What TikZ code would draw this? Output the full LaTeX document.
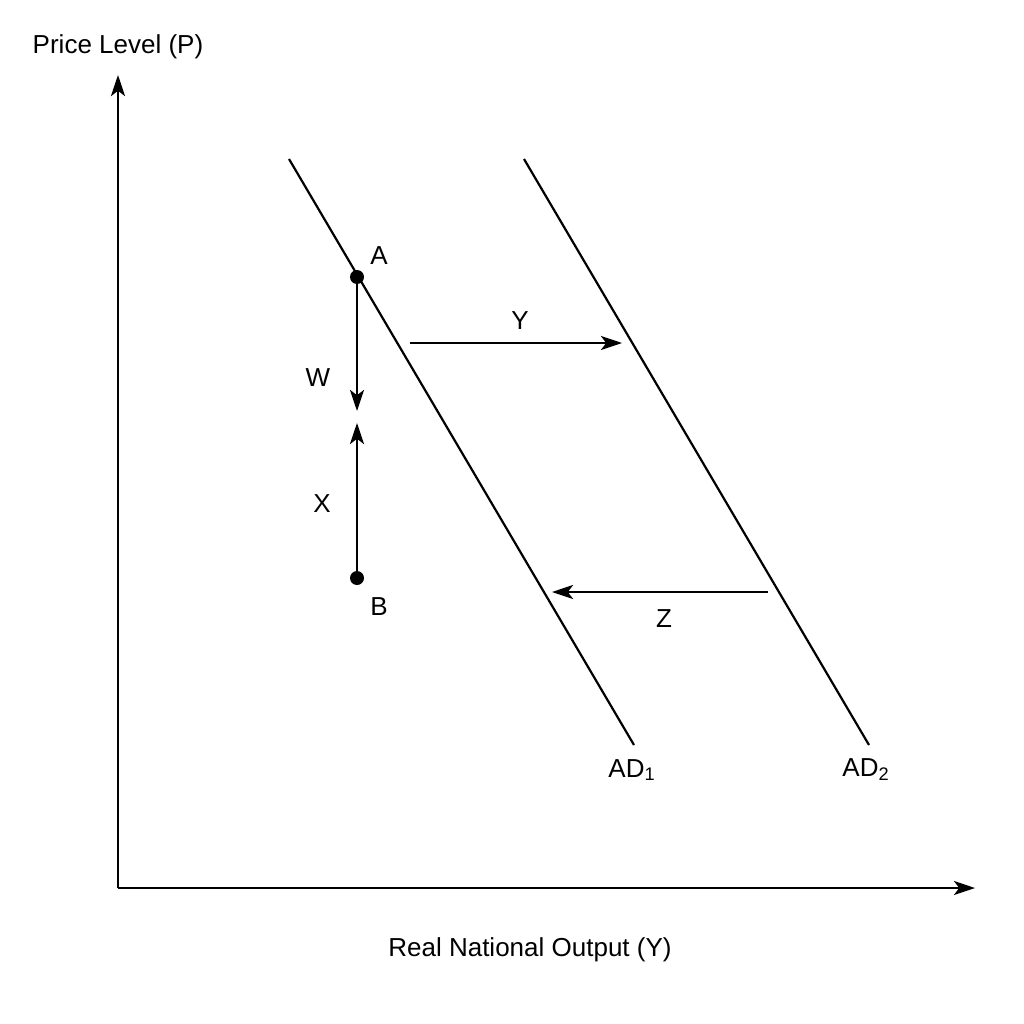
\documentclass[tikz,border=0pt]{standalone}
\usepackage{fontspec}
\setmainfont{Liberation Sans}
\usetikzlibrary{arrows.meta}
\begin{document}
\begin{tikzpicture}[
   x=0.02cm, y=-0.02cm,
   line width=1.25pt,
   every node/.style={font=\fontsize{14.8}{18}\selectfont, inner sep=0pt},
   arr/.style={-{Stealth[length=12pt,width=8pt,inset=3pt]}},
   dot/.style={circle, fill=black, minimum size=0.28cm}]

\useasboundingbox (0,0) rectangle (1024,1024);

% axes
\coordinate (O) at (118,888);
\coordinate (ytop) at (118,75);
\coordinate (xend) at (975,888);
\draw[arr] (O) -- (ytop);
\draw[arr] (O) -- (xend);
\node (plabel) at (118,47) {Price Level (P)};
\node (ylabel) at (530,950) {Real National Output (Y)};

% AD curves
\coordinate (ad1top) at (289,159);
\coordinate (ad1bot) at (634,745);
\coordinate (ad2top) at (524,159);
\coordinate (ad2bot) at (869,745);
\draw (ad1top) -- (ad1bot);
\draw (ad2top) -- (ad2bot);
\node (ad1) at (632,770) {AD\textsubscript{1}};
\node (ad2) at (866,770) {AD\textsubscript{2}};

% points A and B
\node[dot] (A) at (357,277) {};
\node[dot] (B) at (357,578) {};
\node (alabel) at (379,256) {A};
\node (blabel) at (379,607) {B};

% movements
\coordinate (wend) at (357,411);
\coordinate (xtip) at (357,423);
\draw[arr] (A.center) -- (wend);
\draw[arr] (B.center) -- (xtip);
\node (w) at (318,378) {W};
\node (x) at (322,504) {X};

\coordinate (ystart) at (410,343);
\coordinate (yend) at (622,343);
\draw[arr] (ystart) -- (yend);
\node (y) at (520,321) {Y};

\coordinate (zstart) at (768,592);
\coordinate (zend) at (552,592);
\draw[arr] (zstart) -- (zend);
\node (z) at (664,619) {Z};

\end{tikzpicture}
\end{document}
